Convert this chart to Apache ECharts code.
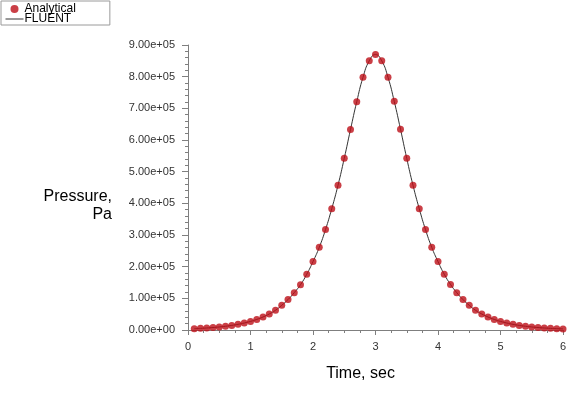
<!DOCTYPE html>
<html>
<head>
<meta charset="utf-8">
<script src="https://cdn.jsdelivr.net/npm/echarts@6/dist/echarts.min.js"></script>
<style>
html,body{margin:0;padding:0;background:#fff;}
#chart{width:585px;height:393px;}
</style>
</head>
<body>
<div id="chart"></div>
<script>
// Time values (sec)
var timeValues = [0.1,0.2,0.3,0.4,0.5,0.6,0.7,0.8,0.9,1.0,
  1.1,1.2,1.3,1.4,1.5,1.6,1.7,1.8,1.9,2.0,
  2.1,2.2,2.3,2.4,2.5,2.6,2.7,2.8,2.9,3.0,
  3.1,3.2,3.3,3.4,3.5,3.6,3.7,3.8,3.9,4.0,
  4.1,4.2,4.3,4.4,4.5,4.6,4.7,4.8,4.9,5.0,
  5.1,5.2,5.3,5.4,5.5,5.6,5.7,5.8,5.9,6.0];
// Analytical pressure (Pa)
var analyticalValues = [4200,5150,6340,7800,9600,11800,14550,17900,22100,27100,
  33400,41100,50600,62300,78000,96000,118000,143000,176000,216000,
  261000,317000,383000,457000,542000,633000,721000,798000,850000,870000,
  850000,798000,722000,634000,542000,457000,383000,317000,261000,216000,
  176000,144000,118000,96000,78000,62300,50600,41100,33400,27100,
  22100,17900,14550,11800,9600,7800,6340,5150,4200,3400];
// FLUENT pressure (Pa)
var fluentValues = [4200,5150,6340,7800,9600,11800,14550,17900,22100,27100,
  33400,41100,50600,62300,78000,96000,118000,143000,176000,216000,
  261000,317000,383000,457000,542000,633000,721000,798000,850000,870000,
  850000,798000,722000,634000,542000,457000,383000,317000,261000,216000,
  176000,144000,118000,96000,78000,62300,50600,41100,33400,27100,
  22100,17900,14550,11800,9600,7800,6340,5150,4200,3400];

function pairs(xs, ys){ return xs.map(function(x,i){ return [x, ys[i]]; }); }
function sci(v){
  if (v === 0) return '0.00e+00';
  var e = Math.floor(Math.log10(Math.abs(v)) + 1e-9);
  var m = v / Math.pow(10, e);
  var es = (e < 0 ? '-' : '+') + (Math.abs(e) < 10 ? '0' : '') + Math.abs(e);
  return m.toFixed(2) + 'e' + es;
}

var chart = echarts.init(document.getElementById('chart'), null, {renderer:'canvas'});
var axisColor = '#7f7f7f';
var red = '#bd0f18';
chart.setOption({
  animation: false,
  backgroundColor: '#ffffff',
  textStyle: {fontFamily: 'Liberation Sans, Arial, sans-serif'},
  legend: {
    orient: 'vertical', left: 1, top: 1,
    padding: [2, 34, 0, 4], itemGap: -2,
    itemWidth: 18, itemHeight: 8,
    borderColor: '#9a9a9a', borderWidth: 1,
    textStyle: {fontSize: 12, color: '#000', lineHeight: 12, padding: [0,0,0,-4]},
    data: [
      {name: 'Analytical', icon: 'circle', itemStyle: {color: red}},
      {name: 'FLUENT', itemStyle: {color: 'rgba(0,0,0,0)', borderWidth: 0, opacity: 0}, lineStyle: {color: '#333333', width: 1}}
    ]
  },
  grid: {left: 188, right: 22, top: 45, bottom: 63},
  xAxis: {
    type: 'value', min: 0, max: 6, interval: 1,
    name: 'Time, sec', nameLocation: 'middle', nameGap: 36,
    nameTextStyle: {fontSize: 16, color: '#000', padding: [0, 30, 0, 0]},
    axisLine: {lineStyle: {color: axisColor}},
    axisTick: {length: 5, lineStyle: {color: axisColor}},
    minorTick: {show: true, splitNumber: 4, length: 3, lineStyle: {color: axisColor}},
    axisLabel: {fontSize: 11, color: '#333', margin: 11},
    splitLine: {show: false}
  },
  yAxis: {
    type: 'value', min: 0, max: 900000, interval: 100000,
    name: 'Pressure,\nPa', nameLocation: 'middle', nameGap: 76, nameRotate: 0,
    nameTextStyle: {fontSize: 16, color: '#000', align: 'right', verticalAlign: 'top', lineHeight: 18},
    axisLine: {show: true, lineStyle: {color: axisColor}},
    axisTick: {show: true, length: 6, lineStyle: {color: axisColor}},
    minorTick: {show: true, splitNumber: 5, length: 3, lineStyle: {color: axisColor}},
    axisLabel: {fontSize: 11, color: '#333', margin: 13, formatter: sci},
    splitLine: {show: false}
  },
  series: [
    {
      name: 'FLUENT', type: 'line', data: pairs(timeValues, fluentValues),
      symbol: 'none', smooth: true, z: 2,
      lineStyle: {color: '#333333', width: 1},
      itemStyle: {color: '#333333'}
    },
    {
      name: 'Analytical', type: 'scatter', data: pairs(timeValues, analyticalValues),
      symbol: 'circle', symbolSize: 7, z: 3,
      itemStyle: {color: red}
    }
  ]
});
</script>
</body>
</html>
